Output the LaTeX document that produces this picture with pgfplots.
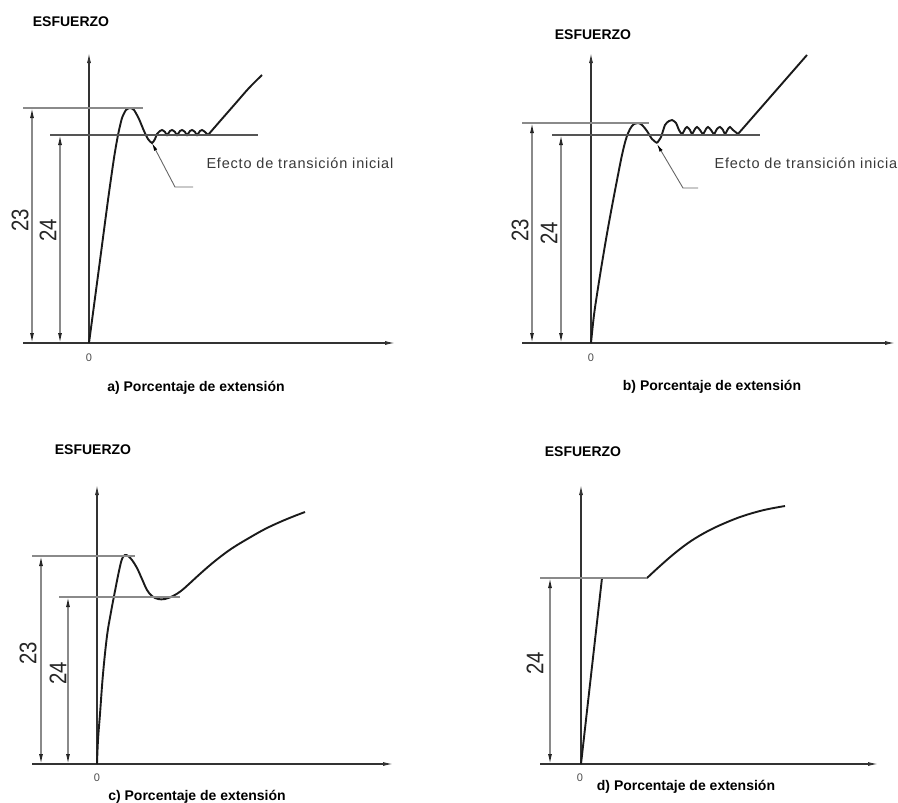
\documentclass[border=0pt]{standalone}
\usepackage{fontspec}
\setmainfont{Liberation Sans}
\newfontfamily\efecto[LetterSpace=5.5]{Liberation Sans}
\usepackage{graphicx}
\usepackage{pgfplots}
\pgfplotsset{compat=1.18}
\usetikzlibrary{arrows.meta}
\definecolor{curve}{HTML}{1A1A1A}
\definecolor{axisc}{HTML}{333333}
\definecolor{dimc}{HTML}{8A8A8A}
\definecolor{ext24}{HTML}{555555}
\pgfplotsset{
  panel/.style={axis lines=middle, scale only axis, clip=false,
    xtick=\empty, ytick=\empty, ymin=0,
    axis line style={draw=axisc, line width=1.1pt, -{Latex[length=10pt,width=4pt]}}},
  crv/.style={draw=curve, line width=1.9pt, smooth, tension=0.6, no marks},
}
\tikzset{
  myext/.style={draw=dimc, line width=1.1pt},
  myextb/.style={draw=ext24, line width=1.3pt},
  mydim/.style={draw=dimc, line width=1.2pt, {Latex[length=10pt,width=4pt,color=black!85]}-{Latex[length=10pt,width=4pt,color=black!85]}},
  mylead/.style={draw=black!60, line width=0.9pt},
  myttl/.style={font=\fontsize{14}{16}\selectfont\bfseries},
  mycap/.style={font=\fontsize{14}{16}\selectfont\bfseries},
  myzero/.style={font=\fontsize{11}{12}\selectfont, text=black!70},
  mynum/.style={rotate=90, font=\fontsize{24}{26}\selectfont, text=black!85},
}
\newcommand{\dn}[1]{\scalebox{0.85}[1]{#1}}
\begin{document}
\begin{tikzpicture}
\useasboundingbox (0pt,0pt) rectangle (898pt,-803pt);
% ---------------- a ----------------
\begin{axis}[panel, at={(23pt,-343pt)}, anchor=south west,
  width=372pt, height=290pt, xmin=-66, xmax=306, ymax=290]
\addplot[crv, tension=0.4] coordinates {(0,0) (10,75) (19,143) (25,185) (29,208) (33,225) (37,233) (41,235) (45,233) (50,224) (55,212) (59,204) (63,200) (66,204) (68,209)
 (71,212) (73,213) (76,211) (78,208) (81,212) (83,213) (86,211) (88,208) (91,212) (93,213) (96,211) (98,208) (101,212) (103,213) (106,211) (108,208) (111,212) (113,213) (116,211) (119,208)};
\addplot[crv] coordinates {(119,208) (132,223) (146,239) (160,255) (173,268)};
\draw[myext] (axis cs:-66,235) -- (axis cs:54,235);
\draw[myextb] (axis cs:-39,208) -- (axis cs:169,208);
\draw[mydim] (axis cs:-57,0) -- (axis cs:-57,235);
\draw[mydim] (axis cs:-29,0) -- (axis cs:-29,208);
\node[mynum] at (axis cs:-69,123) {\dn{23}};
\node[mynum] at (axis cs:-41,113) {\dn{24}};
\draw[mylead, -{Latex[length=8pt,width=3.5pt,color=black]}] (axis cs:104,156) -- (axis cs:86,156) -- (axis cs:63,200);
\node[anchor=west, font=\fontsize{14.5}{16}\efecto, text=black!78] at (axis cs:114,180) {Efecto de transición inicial};
\node[myttl] at (axis cs:-18,321) {ESFUERZO};
\node[myzero] at (axis cs:0,-15) {0};
\node[mycap] at (axis cs:107,-45) {a) Porcentaje de extensión};
\end{axis}
% ---------------- b ----------------
\begin{axis}[panel, at={(522pt,-343pt)}, anchor=south west,
  width=373pt, height=290pt, xmin=-69, xmax=304, ymax=290]
\addplot[crv] coordinates {(0,0) (3,28) (7,55) (12,86) (17,115) (22,142) (27,168) (31,188) (35,204) (39,214) (43,219) (47,220) (51,218) (56,212) (61,204) (66,200)};
\addplot[crv, tension=0.45] coordinates {(66,200) (70,206) (74,218) (78,222) (81,223) (85,220) (88,213) (91,209)
 (94,214) (96,216) (99,213) (101,209) (104,214) (106,216) (109,213) (112,209) (115,214) (117,216) (120,213) (123,209) (126,214) (129,216) (132,213) (134,209) (137,214) (139,216) (142,213) (147,209)};
\addplot[crv] coordinates {(147,209) (216,288)};
\draw[myext] (axis cs:-69,220) -- (axis cs:58,220);
\draw[myextb] (axis cs:-39,208) -- (axis cs:169,208);
\draw[mydim] (axis cs:-59,0) -- (axis cs:-59,220);
\draw[mydim] (axis cs:-30,0) -- (axis cs:-30,208);
\node[mynum] at (axis cs:-71,113) {\dn{23}};
\node[mynum] at (axis cs:-42,110) {\dn{24}};
\draw[mylead, -{Latex[length=8pt,width=3.5pt,color=black]}] (axis cs:107,155) -- (axis cs:92,155) -- (axis cs:66,199);
\node[anchor=west, font=\fontsize{14.5}{16}\efecto, text=black!78] at (axis cs:120,180) {Efecto de transición inicial};
\node[myttl] at (axis cs:2,308) {ESFUERZO};
\node[myzero] at (axis cs:0,-15) {0};
\node[mycap] at (axis cs:121,-44) {b) Porcentaje de extensión};
\end{axis}
% ---------------- c ----------------
\begin{axis}[panel, at={(32pt,-764pt)}, anchor=south west,
  width=361pt, height=279pt, xmin=-65, xmax=296, ymax=279]
\addplot[crv] coordinates {(0,0) (1,24) (3,50) (6,90) (10,128) (14,152) (18,173) (22,193) (25,205) (28,209) (31,208) (35,204) (40,196) (45,185) (50,174) (55,168) (61,165) (68,165) (76,168) (84,173) (92,180) (104,191) (118,203) (134,215) (152,226) (170,236) (190,245) (208,252)};
\draw[myext] (axis cs:-65,208) -- (axis cs:38,208);
\draw[myext] (axis cs:-38,167) -- (axis cs:83,167);
\draw[mydim] (axis cs:-56,0) -- (axis cs:-56,208);
\draw[mydim] (axis cs:-29,0) -- (axis cs:-29,167);
\node[mynum] at (axis cs:-69,111) {\dn{23}};
\node[mynum] at (axis cs:-39,91) {\dn{24}};
\node[myttl] at (axis cs:-4,314) {ESFUERZO};
\node[myzero] at (axis cs:0,-14) {0};
\node[mycap] at (axis cs:100,-33) {c) Porcentaje de extensión};
\end{axis}
% ---------------- d ----------------
\begin{axis}[panel, at={(540pt,-764pt)}, anchor=south west,
  width=338pt, height=279pt, xmin=-41, xmax=297, ymax=279]
\addplot[draw=curve, line width=1.9pt, no marks] coordinates {(0,0) (21,186) (66,186)};
\addplot[crv] coordinates {(66,186) (79,198) (94,211) (110,223) (127,233) (144,241) (162,248) (183,254) (204,258)};
\draw[myext] (axis cs:-41,186) -- (axis cs:66,186);
\draw[mydim] (axis cs:-31,0) -- (axis cs:-31,186);
\node[mynum] at (axis cs:-46,101) {\dn{24}};
\node[myttl] at (axis cs:2,312) {ESFUERZO};
\node[myzero] at (axis cs:-1,-14) {0};
\node[mycap] at (axis cs:105,-23) {d) Porcentaje de extensión};
\end{axis}
\end{tikzpicture}
\end{document}
